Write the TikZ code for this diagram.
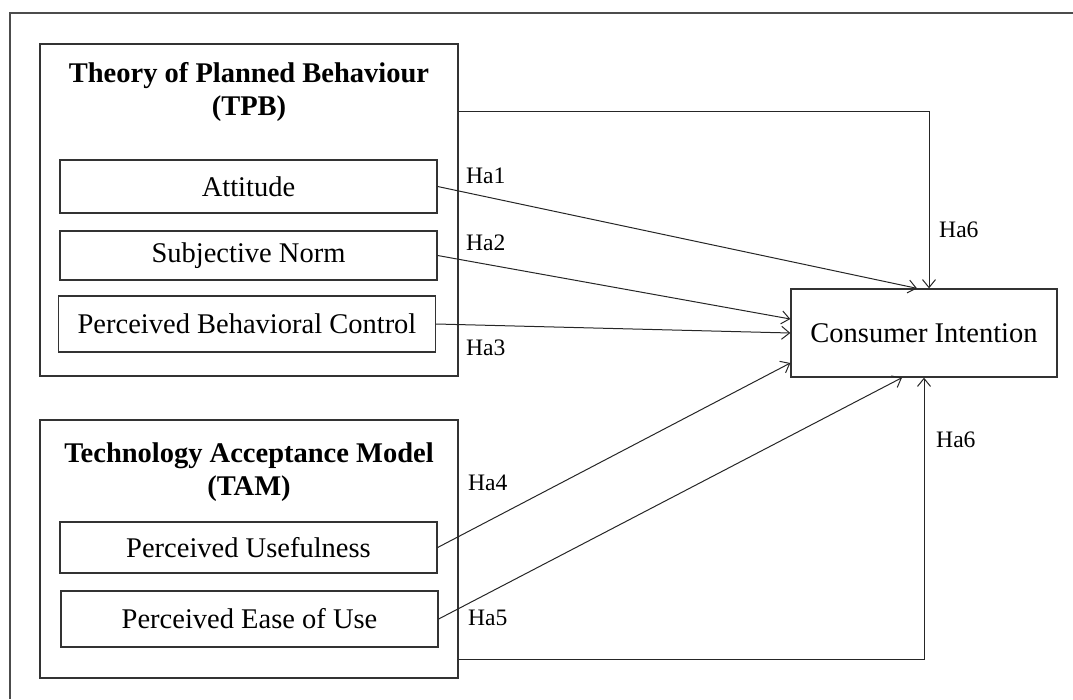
\documentclass[tikz,border=0pt]{standalone}
\usepackage{fontspec}
\setmainfont{Liberation Serif}
\usetikzlibrary{positioning}
\usetikzlibrary{arrows.meta}
\usetikzlibrary{calc}
\tikzstyle{group}=[rectangle,draw=black!80,line width=1.3pt,minimum width=418pt,inner sep=0pt]
\tikzstyle{item}=[rectangle,draw=black!80,line width=1.3pt,minimum width=377pt,inner sep=0pt,font=\fontsize{28.5}{33}\selectfont]
\tikzstyle{grouptitle}=[align=center,inner sep=0pt,font=\fontsize{28.5}{33}\selectfont\bfseries]
\tikzstyle{link}=[draw,line width=1pt,black!85,-{Straight Barb[length=8pt,width=13pt]}]
\tikzstyle{hyp}=[anchor=west,inner sep=0pt,font=\fontsize{23.6}{28}\selectfont]

\begin{document}
\begin{tikzpicture}[x=1pt,y=-1pt]
    \useasboundingbox (0,0) rectangle (1073,699);
    % outer frame
    \draw[black!70,line width=1.3pt] (10,699) -- (10,13) -- (1073,13);

    % the two theory groups
    \node[group,minimum height=332pt] (tpb) at (249,210) {};
    \node[group,minimum height=258pt] (tam) at (249,549) {};
    \node[grouptitle] (tpbtitle) at (249,92) {Theory of Planned Behaviour\\(TPB)};
    \node[grouptitle] (tamtitle) at (249,472) {Technology Acceptance Model\\(TAM)};

    \foreach \pos/\name/\h/\label in {{(248.5,186.5)/att/53/Attitude}, {(248.5,255.5)/sn/49/Subjective Norm}, {(247,324)/pbc/56/Perceived Behavioral Control}, {(248.5,547.5)/pu/51/Perceived Usefulness}, {(249.5,619)/peu/56/Perceived Ease of Use}}
        \node[item,minimum height=\h pt] (\name) at \pos {\label};

    \node[item,minimum height=88pt,minimum width=266pt] (ci) at (924,333) {Consumer Intention};

    \coordinate (ciatt) at ($(ci.north)+(-7,0)$);
    \coordinate (cisn) at ($(ci.west)+(0,-14)$);
    \coordinate (cipu) at ($(ci.west)+(0,30)$);
    \coordinate (cipeu) at ($(ci.south)+(-22,0)$);

    \foreach \source/ \dest in {att/ciatt, sn/cisn, pbc/ci.west, pu/cipu, peu/cipeu}
        \path[link] (\source.east) -- (\dest);

    \path[link] ($(tpb.north east)+(0,68)$) -| ($(ci.north)+(5,0)$);
    \path[link] ($(tam.south east)+(0,-19)$) -| (ci.south);

    \foreach \pos/\name/\label in {{(466,176)/ha1/Ha1}, {(466,243)/ha2/Ha2}, {(466,348)/ha3/Ha3}, {(468,483)/ha4/Ha4}, {(468,618)/ha5/Ha5}, {(939,230)/hatop/Ha6}, {(936,440)/habot/Ha6}}
        \node[hyp] (\name) at \pos {\label};
\end{tikzpicture}
\end{document}
